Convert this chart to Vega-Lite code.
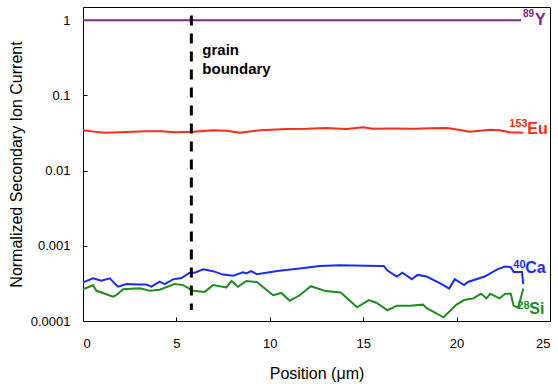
{
  "$schema": "https://vega.github.io/schema/vega-lite/v6.json",
  "width": 467,
  "height": 314,
  "autosize": "none",
  "padding": {"left": 83, "top": 7, "right": 8, "bottom": 63},
  "background": "white",
  "config": {
    "font": "Liberation Sans",
    "view": {"stroke": "black", "strokeWidth": 1},
    "axis": {
      "domain": false,
      "grid": false,
      "tickColor": "black",
      "tickSize": -4,
      "tickWidth": 1,
      "labelColor": "black",
      "labelFont": "Liberation Sans",
      "labelFontSize": 13,
      "titleColor": "black",
      "titleFont": "Liberation Sans",
      "titleFontSize": 16,
      "titleFontWeight": "normal"
    },
    "text": {"font": "Liberation Sans", "fontWeight": "bold", "align": "left", "baseline": "alphabetic"}
  },
  "datasets": {
    "profiles": [
      {"element": "Y", "x": 0, "v": 1},
      {"element": "Y", "x": 5, "v": 1},
      {"element": "Y", "x": 10, "v": 1},
      {"element": "Y", "x": 15, "v": 1},
      {"element": "Y", "x": 20, "v": 1},
      {"element": "Y", "x": 23.45, "v": 1},

      {"element": "Eu", "x": 0, "v": 0.0345},
      {"element": "Eu", "x": 0.6, "v": 0.033},
      {"element": "Eu", "x": 1.16, "v": 0.0318},
      {"element": "Eu", "x": 2.0, "v": 0.0325},
      {"element": "Eu", "x": 3.4, "v": 0.0335},
      {"element": "Eu", "x": 4.2, "v": 0.0333},
      {"element": "Eu", "x": 5.0, "v": 0.0325},
      {"element": "Eu", "x": 5.9, "v": 0.033},
      {"element": "Eu", "x": 6.95, "v": 0.0345},
      {"element": "Eu", "x": 7.7, "v": 0.0338},
      {"element": "Eu", "x": 8.4, "v": 0.032},
      {"element": "Eu", "x": 9.47, "v": 0.0345},
      {"element": "Eu", "x": 10.9, "v": 0.0357},
      {"element": "Eu", "x": 12.0, "v": 0.036},
      {"element": "Eu", "x": 13.0, "v": 0.037},
      {"element": "Eu", "x": 14.1, "v": 0.0357},
      {"element": "Eu", "x": 15.0, "v": 0.0377},
      {"element": "Eu", "x": 15.5, "v": 0.036},
      {"element": "Eu", "x": 16.5, "v": 0.0362},
      {"element": "Eu", "x": 17.7, "v": 0.036},
      {"element": "Eu", "x": 18.6, "v": 0.0365},
      {"element": "Eu", "x": 19.5, "v": 0.0368},
      {"element": "Eu", "x": 20.1, "v": 0.035},
      {"element": "Eu", "x": 20.7, "v": 0.0328},
      {"element": "Eu", "x": 21.8, "v": 0.035},
      {"element": "Eu", "x": 22.3, "v": 0.0345},
      {"element": "Eu", "x": 22.85, "v": 0.0325},
      {"element": "Eu", "x": 23.57, "v": 0.032},

      {"element": "Ca", "x": 0, "v": 0.000327},
      {"element": "Ca", "x": 0.54, "v": 0.000369},
      {"element": "Ca", "x": 0.98, "v": 0.000343},
      {"element": "Ca", "x": 1.43, "v": 0.000369},
      {"element": "Ca", "x": 1.87, "v": 0.000286},
      {"element": "Ca", "x": 2.32, "v": 0.00031},
      {"element": "Ca", "x": 3.0, "v": 0.000305},
      {"element": "Ca", "x": 3.39, "v": 0.000305},
      {"element": "Ca", "x": 3.66, "v": 0.000286},
      {"element": "Ca", "x": 4.1, "v": 0.000333},
      {"element": "Ca", "x": 4.37, "v": 0.00031},
      {"element": "Ca", "x": 4.82, "v": 0.000358},
      {"element": "Ca", "x": 5.27, "v": 0.000373},
      {"element": "Ca", "x": 5.71, "v": 0.000438},
      {"element": "Ca", "x": 5.98, "v": 0.000438},
      {"element": "Ca", "x": 6.43, "v": 0.000486},
      {"element": "Ca", "x": 6.96, "v": 0.00046},
      {"element": "Ca", "x": 7.5, "v": 0.000414},
      {"element": "Ca", "x": 8.04, "v": 0.0004},
      {"element": "Ca", "x": 8.57, "v": 0.000443},
      {"element": "Ca", "x": 8.75, "v": 0.00043},
      {"element": "Ca", "x": 9.0, "v": 0.00046},
      {"element": "Ca", "x": 9.3, "v": 0.00042},
      {"element": "Ca", "x": 10.5, "v": 0.000465},
      {"element": "Ca", "x": 11.6, "v": 0.0005},
      {"element": "Ca", "x": 12.67, "v": 0.00054},
      {"element": "Ca", "x": 13.74, "v": 0.00055},
      {"element": "Ca", "x": 15.9, "v": 0.00054},
      {"element": "Ca", "x": 16.1, "v": 0.00054},
      {"element": "Ca", "x": 16.3, "v": 0.00047},
      {"element": "Ca", "x": 16.8, "v": 0.00039},
      {"element": "Ca", "x": 17.1, "v": 0.00044},
      {"element": "Ca", "x": 17.6, "v": 0.00036},
      {"element": "Ca", "x": 17.9, "v": 0.00041},
      {"element": "Ca", "x": 18.4, "v": 0.00039},
      {"element": "Ca", "x": 19.2, "v": 0.00031},
      {"element": "Ca", "x": 19.6, "v": 0.00027},
      {"element": "Ca", "x": 19.9, "v": 0.00036},
      {"element": "Ca", "x": 20.4, "v": 0.0003},
      {"element": "Ca", "x": 20.6, "v": 0.00033},
      {"element": "Ca", "x": 21.5, "v": 0.00039},
      {"element": "Ca", "x": 22.2, "v": 0.00049},
      {"element": "Ca", "x": 22.6, "v": 0.00053},
      {"element": "Ca", "x": 22.9, "v": 0.00052},
      {"element": "Ca", "x": 23.05, "v": 0.00045},
      {"element": "Ca", "x": 23.5, "v": 0.00045},
      {"element": "Ca", "x": 23.57, "v": 0.00031},

      {"element": "Si", "x": 0, "v": 0.000264},
      {"element": "Si", "x": 0.54, "v": 0.000298},
      {"element": "Si", "x": 0.71, "v": 0.000254},
      {"element": "Si", "x": 1.6, "v": 0.00021},
      {"element": "Si", "x": 1.78, "v": 0.00022},
      {"element": "Si", "x": 2.14, "v": 0.000264},
      {"element": "Si", "x": 3.04, "v": 0.000272},
      {"element": "Si", "x": 3.57, "v": 0.000253},
      {"element": "Si", "x": 4.1, "v": 0.00026},
      {"element": "Si", "x": 4.9, "v": 0.00031},
      {"element": "Si", "x": 5.36, "v": 0.0003},
      {"element": "Si", "x": 5.89, "v": 0.000253},
      {"element": "Si", "x": 6.52, "v": 0.000244},
      {"element": "Si", "x": 6.96, "v": 0.0003},
      {"element": "Si", "x": 7.68, "v": 0.00028},
      {"element": "Si", "x": 7.95, "v": 0.00034},
      {"element": "Si", "x": 8.3, "v": 0.000286},
      {"element": "Si", "x": 8.75, "v": 0.00034},
      {"element": "Si", "x": 9.3, "v": 0.00033},
      {"element": "Si", "x": 10.18, "v": 0.00022},
      {"element": "Si", "x": 10.62, "v": 0.000236},
      {"element": "Si", "x": 11.07, "v": 0.000186},
      {"element": "Si", "x": 11.6, "v": 0.00022},
      {"element": "Si", "x": 12.2, "v": 0.00029},
      {"element": "Si", "x": 13.0, "v": 0.00025},
      {"element": "Si", "x": 13.8, "v": 0.00024},
      {"element": "Si", "x": 14.67, "v": 0.000152},
      {"element": "Si", "x": 15.3, "v": 0.00019},
      {"element": "Si", "x": 15.7, "v": 0.000175},
      {"element": "Si", "x": 16.3, "v": 0.000139},
      {"element": "Si", "x": 16.8, "v": 0.00016},
      {"element": "Si", "x": 17.5, "v": 0.00016},
      {"element": "Si", "x": 18.2, "v": 0.000165},
      {"element": "Si", "x": 18.4, "v": 0.000148},
      {"element": "Si", "x": 19.3, "v": 0.000112},
      {"element": "Si", "x": 20.0, "v": 0.000165},
      {"element": "Si", "x": 20.4, "v": 0.00019},
      {"element": "Si", "x": 20.9, "v": 0.0002},
      {"element": "Si", "x": 21.3, "v": 0.00023},
      {"element": "Si", "x": 21.6, "v": 0.0002},
      {"element": "Si", "x": 21.8, "v": 0.00023},
      {"element": "Si", "x": 22.3, "v": 0.0002},
      {"element": "Si", "x": 22.6, "v": 0.00023},
      {"element": "Si", "x": 22.9, "v": 0.00023},
      {"element": "Si", "x": 23.05, "v": 0.00016},
      {"element": "Si", "x": 23.3, "v": 0.00015},
      {"element": "Si", "x": 23.57, "v": 0.00027}
    ],
    "boundary": [
      {"x": 5.8, "top": 1.16, "bottom": 0.00014, "label": ["grain", "boundary"]}
    ]
  },
  "encoding": {
    "x": {
      "field": "x", "type": "quantitative",
      "scale": {"domain": [0, 25], "nice": false, "zero": false},
      "axis": {"values": [0, 5, 10, 15, 20, 25], "title": "Position (μm)", "labelPadding": 20, "titlePadding": 15}
    },
    "y": {
      "field": "v", "type": "quantitative",
      "scale": {"type": "log", "domain": [0.0001, 1.5], "nice": false},
      "axis": {"values": [0.0001, 0.001, 0.01, 0.1, 1], "format": "~g", "title": "Normalized Secondary Ion Current", "labelPadding": 17, "titlePadding": 6}
    }
  },
  "layer": [
    {
      "data": {"name": "profiles"},
      "mark": {"type": "line", "strokeWidth": 2, "interpolate": "linear"},
      "encoding": {
        "color": {
          "field": "element", "type": "nominal", "legend": null,
          "scale": {"domain": ["Y", "Eu", "Ca", "Si"], "range": ["#80278A", "#FF2A12", "#1A2BFF", "#1E8C1E"]}
        },
        "detail": {"field": "element"}
      }
    },
    {
      "data": {"name": "boundary"},
      "mark": {"type": "rule", "color": "black", "strokeWidth": 3, "strokeDash": [10, 8]},
      "encoding": {
        "y": {"field": "top", "type": "quantitative"},
        "y2": {"field": "bottom"}
      }
    },
    {
      "data": {"name": "boundary"},
      "mark": {"type": "text", "fontSize": 15, "dx": 11, "dy": 40, "lineHeight": 19, "color": "black"},
      "encoding": {
        "y": {"field": "top", "type": "quantitative"},
        "text": {"field": "label"}
      }
    },
    {
      "data": {"name": "profiles"},
      "transform": [{"filter": "datum.element === 'Y'"}, {"joinaggregate": [{"op": "max", "field": "x", "as": "xend"}]}, {"filter": "datum.x === datum.xend"}],
      "layer": [
        {"mark": {"type": "text", "text": "89", "fontSize": 10, "dx": 2, "dy": -3, "color": "#80278A"}},
        {"mark": {"type": "text", "text": "Y", "fontSize": 16, "dx": 14, "dy": 5, "color": "#80278A"}}
      ]
    },
    {
      "data": {"name": "profiles"},
      "transform": [{"filter": "datum.element === 'Eu'"}, {"joinaggregate": [{"op": "max", "field": "x", "as": "xend"}]}, {"filter": "datum.x === datum.xend"}],
      "layer": [
        {"mark": {"type": "text", "text": "153", "fontSize": 11, "dx": -14, "dy": -6, "color": "#FF2A12"}},
        {"mark": {"type": "text", "text": "Eu", "fontSize": 16, "dx": 4, "dy": 1, "color": "#FF2A12"}}
      ]
    },
    {
      "data": {"name": "profiles"},
      "transform": [{"filter": "datum.element === 'Ca'"}, {"joinaggregate": [{"op": "max", "field": "x", "as": "xend"}]}, {"filter": "datum.x === datum.xend"}],
      "layer": [
        {"mark": {"type": "text", "text": "40", "fontSize": 11, "dx": -10, "dy": -16, "color": "#1A2BFF"}},
        {"mark": {"type": "text", "text": "Ca", "fontSize": 16, "dx": 2, "dy": -11, "color": "#1A2BFF"}}
      ]
    },
    {
      "data": {"name": "profiles"},
      "transform": [{"filter": "datum.element === 'Si'"}, {"joinaggregate": [{"op": "max", "field": "x", "as": "xend"}]}, {"filter": "datum.x === datum.xend"}],
      "layer": [
        {"mark": {"type": "text", "text": "28", "fontSize": 11, "dx": -6, "dy": 20, "color": "#1E8C1E"}},
        {"mark": {"type": "text", "text": "Si", "fontSize": 16, "dx": 6, "dy": 25, "color": "#1E8C1E"}}
      ]
    }
  ]
}
